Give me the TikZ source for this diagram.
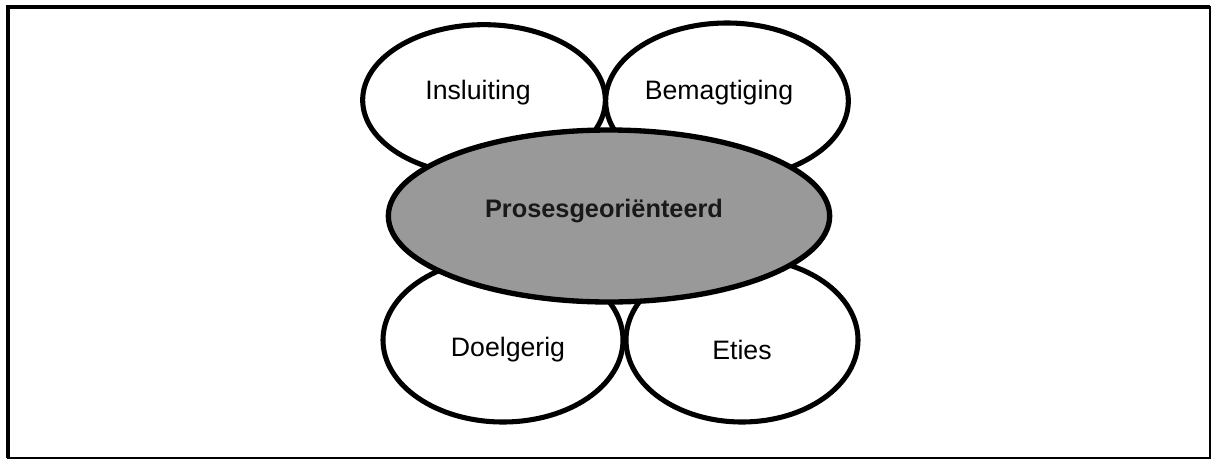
\documentclass[tikz,border=0pt]{standalone}
\usepackage{fontspec}
\setmainfont{Liberation Sans}
\usetikzlibrary{shapes.geometric}
\begin{document}
\begin{tikzpicture}[x=0.75pt,y=-0.75pt,
  petal/.style={ellipse,draw=black,line width=3.8pt,fill=white,inner sep=0pt},
  hub/.style={ellipse,draw=black,line width=4pt,fill=black!40,inner sep=0pt},
  caption/.style={font=\fontsize{20pt}{24pt}\selectfont,text=black,inner sep=0pt},
  hubcaption/.style={font=\fontsize{19pt}{23pt}\selectfont\bfseries,text=black!90,inner sep=0pt}]
  \useasboundingbox (0,0) rectangle (1214,461);
  % frame: heavier on the top and left sides
  \draw[line width=1.5pt] (8,7) -- (1210,7) -- (1210,458) -- (8,458) -- cycle;
  \draw[line width=3.6pt,line cap=square] (8,458) -- (8,7) -- (1210,7);
  % the four outer ellipses
  \node[petal,minimum width=182pt,minimum height=113pt] (ins) at (484,100) {};
  \node[petal,minimum width=182pt,minimum height=117pt] (bem) at (727,101) {};
  \node[petal,minimum width=180pt,minimum height=123pt] (doe) at (503,340) {};
  \node[petal,minimum width=174pt,minimum height=123pt] (eti) at (742,340) {};
  % central ellipse drawn over them
  \node[hub,minimum width=331pt,minimum height=129pt] (pro) at (609,216) {};
  % captions
  \node[caption] (tins) at (478,93) {Insluiting};
  \node[caption] (tbem) at (719,93) {Bemagtiging};
  \node[caption] (tdoe) at (508,350) {Doelgerig};
  \node[caption] (teti) at (742,350) {Eties};
  \node[hubcaption] (tpro) at (604,211) {Prosesgeoriënteerd};
\end{tikzpicture}
\end{document}
